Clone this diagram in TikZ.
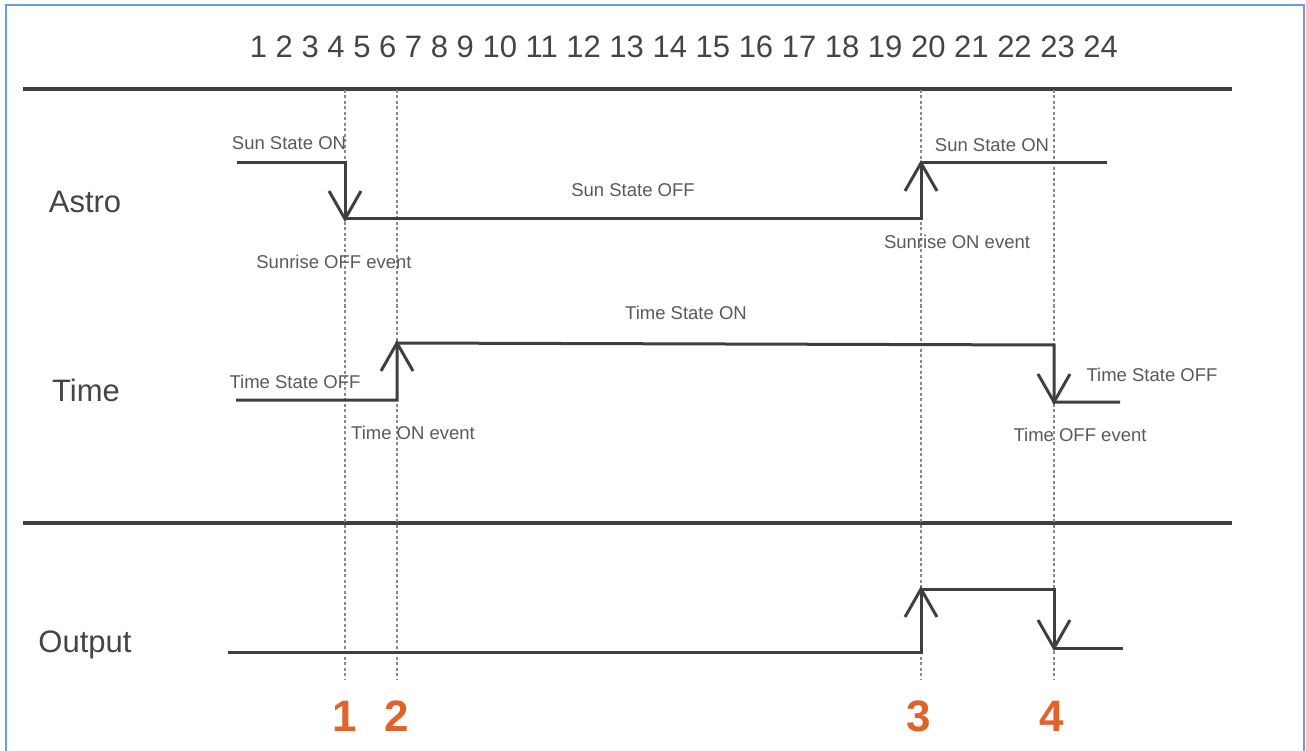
\documentclass[tikz,border=0pt]{standalone}
\usepackage{fontspec}
\setmainfont{Liberation Sans}
\usetikzlibrary{calc}
\definecolor{sigc}{HTML}{3F3F3F}
\definecolor{txtc}{HTML}{454545}
\definecolor{smallc}{HTML}{5A5A5A}
\definecolor{dotc}{HTML}{8A8A8A}
\definecolor{orangec}{HTML}{E2622C}
\definecolor{framec}{HTML}{6A9EDC}
\tikzset{
  sig/.style={draw=sigc, line width=3pt, line join=miter},
  rule/.style={draw=sigc, line width=3.5pt},
  guide/.style={draw=dotc, line width=1.6pt, dash pattern=on 3pt off 2.5pt},
  big/.style={text=txtc, font=\fontsize{31}{36}\selectfont, inner sep=0pt},
  small/.style={text=smallc, font=\fontsize{18.5}{22}\selectfont, inner sep=0pt},
  evmark/.style={text=orangec, font=\fontsize{44}{50}\selectfont\bfseries, inner sep=0pt}
}
\begin{document}
\begin{tikzpicture}[x=1pt,y=-1pt]
\useasboundingbox (0,0) rectangle (1306,751);
\fill[white] (0,0) rectangle (1306,751);
\draw[framec, line width=2pt] (6,5) rectangle (1304,780);

% hour scale
\node[big] (hours) at (684,47) {1 2 3 4 5 6 7 8 9 10 11 12 13 14 15 16 17 18 19 20 21 22 23 24};

% rules
\coordinate (r1a) at (23,89);  \coordinate (r1b) at (1232,89);
\coordinate (r2a) at (23,523); \coordinate (r2b) at (1232,523);
\draw[rule] (r1a) -- (r1b);
\draw[rule] (r2a) -- (r2b);

% guides
\foreach \n/\x in {1/345,2/397,3/921,4/1054}{
  \coordinate (g\n top) at (\x,90);
  \coordinate (g\n bot) at (\x,679);
  \draw[guide] (g\n top) -- (g\n bot);
}

% row labels
\node[big] (astro) at (85,202) {Astro};
\node[big] (time) at (86,390) {Time};
\node[big] (output) at (85,645) {Output};

% Astro signal
\coordinate (a0) at (237,163);
\coordinate (a1) at (345,163);
\coordinate (a2) at (345,219);
\coordinate (a3) at (921,219);
\coordinate (a4) at (921,163);
\coordinate (a5) at (1107,163);
\draw[sig] (a0) -- (a1) -- (a2) -- (a3) -- (a4) -- (a5);
\draw[sig] ($(a2)+(-16,-28)$) -- (a2) -- ($(a2)+(16,-28)$);
\draw[sig] ($(a4)+(-16,28)$) -- (a4) -- ($(a4)+(16,28)$);

% Time signal
\coordinate (t0) at (236,400);
\coordinate (t1) at (397,400);
\coordinate (t2) at (397,343);
\coordinate (t3) at (1054,345);
\coordinate (t4) at (1054,402);
\coordinate (t5) at (1120,402);
\draw[sig] (t0) -- (t1) -- (t2) -- (t3) -- (t4) -- (t5);
\draw[sig] ($(t2)+(-16,28)$) -- (t2) -- ($(t2)+(16,28)$);
\draw[sig] ($(t4)+(-16,-28)$) -- (t4) -- ($(t4)+(16,-28)$);

% Output signal
\coordinate (o0) at (228,652);
\coordinate (o1) at (921,652);
\coordinate (o2) at (921,589);
\coordinate (o3) at (1054,589);
\coordinate (o4) at (1054,648);
\coordinate (o5) at (1123,648);
\draw[sig] (o0) -- (o1) -- (o2) -- (o3) -- (o4) -- (o5);
\draw[sig] ($(o2)+(-16,28)$) -- (o2) -- ($(o2)+(16,28)$);
\draw[sig] ($(o4)+(-16,-28)$) -- (o4) -- ($(o4)+(16,-28)$);

% small labels
\node[small] (sunon1) at (289,143) {Sun State ON};
\node[small] (sunoff) at (633,190) {Sun State OFF};
\node[small] (sroff) at (334,262) {Sunrise OFF event};
\node[small] (sunon2) at (992,145) {Sun State ON};
\node[small] (sron) at (957,242) {Sunrise ON event};
\node[small] (timeon) at (686,313) {Time State ON};
\node[small] (timeoff1) at (295,382) {Time State OFF};
\node[small] (tonev) at (413,433) {Time ON event};
\node[small] (timeoff2) at (1152,375) {Time State OFF};
\node[small] (toffev) at (1080,435) {Time OFF event};

% event markers
\node[evmark] (m1) at (345,716) {1};
\node[evmark] (m2) at (397,716) {2};
\node[evmark] (m3) at (919,716) {3};
\node[evmark] (m4) at (1052,716) {4};
\end{tikzpicture}
\end{document}
